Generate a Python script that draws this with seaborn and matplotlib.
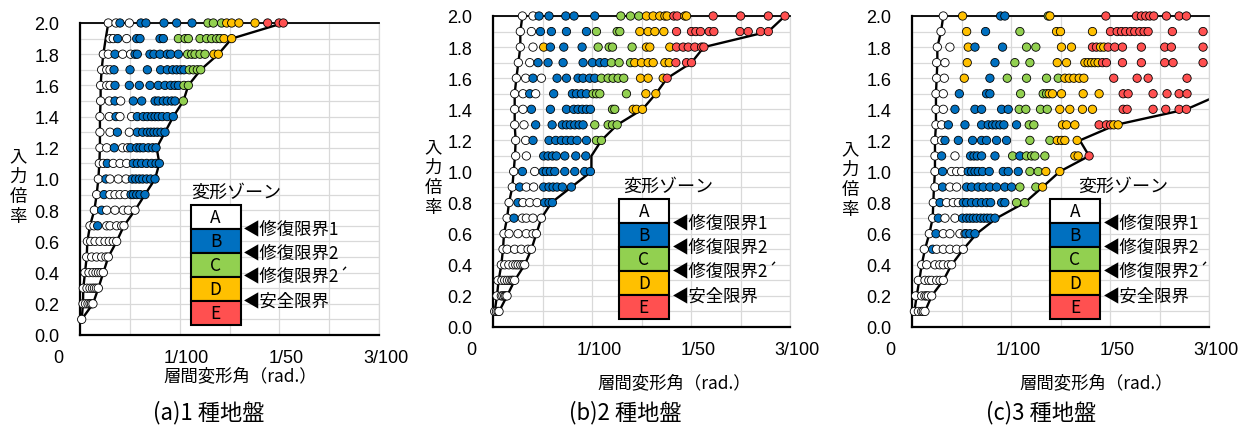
import numpy as np
import pandas as pd
import matplotlib
matplotlib.use("Agg")
import matplotlib.pyplot as plt
import seaborn as sns
from matplotlib.patches import Rectangle
from matplotlib.transforms import ScaledTranslation

# ---------------- data (drift angle in 1/1000 rad, input ratio) ----------------
levels = [0.1, 0.2, 0.3, 0.4, 0.5, 0.6, 0.7, 0.8, 0.9, 1.0,
          1.1, 1.2, 1.3, 1.4, 1.5, 1.6, 1.7, 1.8, 1.9, 2.0]

# (a) ground type 1
a_A = {2.0: [2.84, 3.61, 4.95], 1.9: [3.01, 3.34, 4.68], 1.8: [2.34, 2.84, 4.28, 5.08],
       1.7: [2.17, 2.68, 3.01], 1.6: [2.07, 2.68, 3.01], 1.5: [2.07, 2.94, 4.08],
       1.4: [2.0, 2.94, 4.01, 5.18], 1.3: [2.0, 3.01, 4.95], 1.2: [2.0, 2.68, 4.28, 4.78],
       1.1: [1.94, 2.34, 3.34, 4.01, 4.68], 1.0: [1.84, 3.01, 3.85, 4.62],
       0.9: [1.67, 3.01, 3.51, 4.01, 4.52], 0.8: [1.44, 2.68, 3.51, 4.35, 4.85, 5.52],
       0.7: [1.0, 1.40, 2.68, 3.01, 3.68, 4.18, 4.41],
       0.6: [0.74, 1.07, 1.51, 2.01, 2.51, 2.94, 3.34, 3.68],
       0.5: [0.67, 1.17, 1.67, 2.17, 2.6, 2.84],
       0.4: [0.5, 0.9, 1.3, 1.6, 1.85, 2.1, 2.34],
       0.3: [0.33, 0.7, 1.0, 1.25, 1.45, 1.65, 1.84],
       0.2: [0.3, 0.55, 0.8, 1.0, 1.15, 1.3], 0.1: [0.17]}
a_B = {2.0: [4.01, 6.12, 6.62, 8.43, 9.70, 11.24], 1.9: [3.78, 5.69, 6.02, 8.03, 8.36],
       1.8: [3.51, 5.52, 5.75, 7.02, 7.42, 8.03, 8.76, 9.10, 9.87],
       1.7: [3.41, 5.02, 6.76, 8.09, 8.76, 9.30, 9.70, 10.10, 10.43],
       1.6: [3.51, 4.95, 5.95, 7.02, 7.86, 8.53, 9.10, 9.53, 9.87],
       1.5: [3.51, 5.35, 6.19, 7.53, 7.86, 8.36, 8.76, 9.20, 9.53],
       1.4: [3.61, 5.75, 6.35, 6.76, 7.19, 7.53, 7.86, 8.26, 8.76, 9.36],
       1.3: [3.75, 5.75, 6.29, 6.76, 7.09, 7.42, 7.76, 8.13, 8.53],
       1.2: [3.44, 5.08, 5.69, 6.02, 6.35, 6.86, 7.29, 7.63],
       1.1: [2.74, 5.35, 5.75, 6.19, 6.69, 7.19, 7.63, 7.96],
       1.0: [2.61, 5.25, 5.59, 5.95, 6.29, 6.69, 7.09, 7.53],
       0.9: [2.41, 5.12, 5.35, 5.69, 6.02, 6.52], 0.8: [2.17], 0.7: [1.77]}
a_C = {2.0: [12.84, 13.38, 14.2], 1.9: [9.87, 10.54, 10.87, 12.04, 12.71, 13.21, 13.71, 14.05],
       1.8: [10.80, 11.20, 11.54, 12.04, 12.54], 1.7: [10.97, 11.37, 11.77, 12.11],
       1.6: [10.43, 10.87], 1.5: [10.37]}
a_D = {2.0: [14.72, 15.22, 15.95, 17.56], 1.9: [14.45, 15.22], 1.8: [13.44, 13.88]}
a_E = {2.0: [18.83, 19.97, 20.4]}
a_left = [0.17, 0.3, 0.33, 0.5, 0.67, 0.74, 1.0, 1.44, 1.67, 1.84,
          1.94, 2.0, 2.0, 2.0, 2.07, 2.07, 2.17, 2.34, 2.58, 2.84]
a_right = [0.17, 1.3, 1.84, 2.34, 2.84, 3.68, 4.41, 5.52, 6.52, 7.53,
           7.96, 7.69, 8.53, 9.36, 10.37, 10.87, 12.11, 13.88, 15.22, 20.4]

# (b) ground type 2
b_A = {2.0: [2.97, 4.04], 1.9: [2.76, 3.88], 1.8: [2.76, 4.04], 1.7: [2.56, 3.71],
       1.6: [2.36, 3.30, 4.89], 1.5: [2.19, 3.03, 4.31], 1.4: [2.19, 3.03], 1.3: [2.19, 3.13],
       1.2: [2.29, 3.30], 1.1: [2.29, 3.37], 1.0: [2.09, 4.21], 0.9: [1.95, 3.37, 4.11],
       0.8: [1.62, 3.03, 3.71, 4.45], 0.7: [1.42, 2.97, 3.37, 4.04, 4.89],
       0.6: [1.11, 1.62, 2.53, 3.37, 4.04, 4.38], 0.5: [1.01, 1.42, 2.19, 2.86, 3.54, 3.88],
       0.4: [0.84, 1.18, 1.6, 2.02, 2.3, 2.53, 2.8, 3.03, 3.20],
       0.3: [0.51, 0.9, 1.18, 1.45, 1.69, 1.9, 2.02, 2.19],
       0.2: [0.40, 0.84, 1.0, 1.18, 1.3, 1.42], 0.1: [0.17, 0.35, 0.51, 0.61]}
b_B = {2.0: [4.65, 5.66, 7.35, 8.19, 10.28], 1.9: [4.79, 5.90, 7.42, 9.44],
       1.8: [5.80, 7.15, 9.00], 1.7: [4.55, 5.56, 7.08, 9.10, 10.04, 10.79, 11.29],
       1.6: [4.04, 6.47, 7.42, 8.59, 9.10, 9.77, 10.28],
       1.5: [3.71, 6.13, 8.02, 8.43, 8.93, 9.44],
       1.4: [3.88, 5.80, 7.42, 8.16, 8.59, 9.03, 9.44, 9.84],
       1.3: [4.31, 5.97, 7.01, 7.42, 7.82, 8.26, 8.70, 9.10],
       1.2: [4.04, 5.66, 6.34, 6.91, 7.42, 7.92, 8.49, 9.44],
       1.1: [5.12, 5.56, 6.00, 6.40, 7.25, 8.36, 9.37],
       1.0: [2.97, 5.06, 5.39, 5.80, 6.24, 7.25, 8.26, 9.27, 9.84],
       0.9: [2.70, 5.12, 5.66, 6.07, 6.47, 7.01, 7.92], 0.8: [2.53, 5.22, 5.66, 6.00],
       0.7: [2.12]}
b_C = {2.0: [12.91, 13.89, 14.73], 1.9: [10.45, 12.54, 12.81], 1.8: [10.62, 11.73, 12.07, 14.05],
       1.7: [11.96, 12.74, 13.89], 1.6: [10.95, 11.63, 12.13, 12.64, 13.21],
       1.5: [10.11, 10.45, 10.79, 13.48], 1.4: [12.07, 12.3],
       1.3: [10.28, 11.63, 12.07, 12.54], 1.2: [10.45, 10.95]}
b_D = {2.0: [15.50, 16.18, 16.85, 17.36, 17.59, 19.38, 19.55], 1.9: [14.83, 15.67, 16.35, 17.26],
       1.8: [5.12, 15.50, 15.84, 17.86], 1.7: [14.32, 15.00, 15.67, 16.18, 17.36, 17.80],
       1.6: [14.90, 15.67, 17.19], 1.5: [15.44, 16.45], 1.4: [14.16, 14.49, 15.10]}
b_E = {2.0: [18.27, 18.6, 22.24, 25.01, 27.81, 29.49],
       1.9: [18.54, 20.05, 20.49, 20.96, 21.84, 22.31, 24.94, 25.78, 27.03, 27.81],
       1.8: [18.54, 19.21, 19.72, 20.39, 21.07, 21.30], 1.7: [18.47, 19.55, 20.05],
       1.6: [17.59]}
b_left = [0.17, 0.40, 0.57, 0.84, 1.01, 1.11, 1.42, 1.62, 1.95, 2.09,
          2.22, 2.29, 2.19, 2.19, 2.19, 2.36, 2.56, 2.76, 2.76, 2.97]
b_right = [0.61, 1.42, 2.19, 3.20, 3.88, 4.38, 4.89, 5.9, 7.92, 9.94,
           9.94, 10.95, 12.54, 15.10, 16.45, 17.59, 20.05, 21.30, 27.81, 29.49]

# (c) ground type 3
c_A = {2.0: [3.16], 1.9: [2.93], 1.8: [2.56, 3.83], 1.7: [2.49, 3.33], 1.6: [2.49, 3.26],
       1.5: [2.42, 3.16], 1.4: [2.42, 3.16], 1.3: [2.42, 2.99], 1.2: [2.32, 2.99],
       1.1: [2.32, 4.34], 1.0: [2.32, 4.00, 4.51, 5.01], 0.9: [2.32, 3.83, 4.51],
       0.8: [2.15, 3.50, 4.17, 4.68], 0.7: [2.09, 3.33, 4.34],
       0.6: [1.75, 3.16, 3.83, 4.84, 5.35], 0.5: [1.24, 2.49, 3.16, 3.83, 4.51, 5.18],
       0.4: [0.98, 1.48, 2.32, 2.8, 3.16, 3.67, 4.00],
       0.3: [0.64, 1.31, 1.7, 1.98, 2.49, 2.83, 3.16],
       0.2: [0.37, 0.98, 1.3, 1.48, 1.65, 1.99], 0.1: [0.24, 0.64, 0.98, 1.14, 1.31]}
c_B = {2.0: [8.95, 9.38], 1.9: [7.43], 1.8: [6.36, 9.15], 1.7: [8.38], 1.6: [7.87],
       1.5: [4.78, 7.53, 7.87], 1.4: [4.34, 6.36, 7.03, 9.05, 9.72],
       1.3: [3.67, 5.35, 7.03, 7.70, 8.14, 8.48, 8.88, 9.28, 10.56],
       1.2: [3.33, 4.68, 6.12, 7.03, 7.53, 8.54, 9.55],
       1.1: [2.99, 5.92, 6.26, 6.59, 7.03, 8.38, 10.9],
       1.0: [3.09, 5.68, 6.02, 6.36, 6.69, 7.13, 7.80, 9.22, 9.72, 10.73],
       0.9: [3.09, 5.52, 6.02, 6.69, 7.20, 7.87, 8.54, 9.38, 10.06],
       0.8: [2.83, 5.18, 5.52, 6.02, 6.53, 7.03, 7.53, 7.94, 9.05, 9.38],
       0.7: [2.66, 5.11, 5.52, 5.85, 6.19, 6.53, 6.93, 7.27, 7.60, 7.94, 8.38],
       0.6: [2.42, 5.45, 5.85, 6.36], 0.5: [2.09]}
c_C = {2.0: [13.76], 1.9: [10.90], 1.8: [11.57, 12.51], 1.7: [10.39, 11.91],
       1.6: [9.62, 11.57, 13.59, 14.77], 1.5: [10.97, 13.25, 13.59],
       1.4: [10.83, 11.50, 12.98, 13.66], 1.3: [11.84, 12.31], 1.2: [11.91, 13.93],
       1.1: [10.16, 11.57, 12.08, 12.41, 13.42], 1.0: [11.91, 12.75], 0.9: [10.90, 12.51],
       0.8: [10.56, 11.40]}
c_D = {2.0: [5.11, 13.93], 1.9: [5.52, 14.60, 15.00, 18.23],
       1.8: [5.68, 15.10, 16.11, 19.04, 19.37],
       1.7: [5.58, 14.67, 15.61, 17.46, 17.79, 18.13, 18.47, 18.80],
       1.6: [5.28, 15.44, 15.88, 16.35, 16.89, 17.36], 1.5: [13.86, 14.19, 15.10, 17.29, 18.90],
       1.4: [14.93, 15.94, 17.22, 18.23], 1.3: [15.20, 15.61, 16.45, 20.38, 20.82],
       1.2: [14.67, 15.10, 15.44, 16.68], 1.1: [16.45, 16.78], 1.0: [13.52, 14.93],
       0.9: [13.19]}
c_E = {2.0: [19.58, 22.67, 23.17, 23.61, 24.02, 24.42, 25.70, 26.98, 27.72],
       1.9: [20.05, 20.72, 21.16, 21.59, 22.07, 22.50, 23.01, 23.44, 23.85, 26.30, 29.40],
       1.8: [18.23, 18.63, 19.81, 20.48, 21.26, 23.17, 25.53, 26.20, 29.40],
       1.7: [19.24, 19.64, 21.26, 23.17, 25.53, 26.37, 29.40],
       1.6: [20.38, 22.74, 23.85, 27.78], 1.5: [21.33, 21.83, 24.35, 25.76, 26.98, 27.78],
       1.4: [21.33, 21.73, 24.35, 25.63, 26.98, 27.72], 1.3: [18.90, 19.64, 20.05],
       1.1: [17.89]}
c_left = [0.24, 0.47, 0.74, 0.98, 1.31, 1.75, 2.09, 2.15, 2.22, 2.32,
          2.32, 2.32, 2.42, 2.42, 2.42, 2.49, 2.56, 2.56, 2.93, 3.16]
c_right = [1.31, 1.99, 3.16, 4.0, 5.18, 6.53, 8.54, 11.40, 13.19, 14.93,
           17.89, 16.95, 20.6, 27.72, 31.3]

zones = ["A", "B", "C", "D", "E"]
zone_colors = ["#FFFFFF", "#0070C0", "#92D050", "#FFC000", "#FF5050"]
limit_labels = ["◀修復限界1", "◀修復限界2", "◀修復限界2´", "◀安全限界"]
captions = ["(a)1 種地盤", "(b)2 種地盤", "(c)3 種地盤"]
xtick_vals = [0.0, 0.01, 0.02, 0.03]
xtick_labels = ["0", "1/100", "1/50", "3/100"]
ytick_vals = [0.0, 0.2, 0.4, 0.6, 0.8, 1.0, 1.2, 1.4, 1.6, 1.8, 2.0]

# ---------------- build tables ----------------
panels = {
    "a": ([a_A, a_B, a_C, a_D, a_E], a_left, a_right),
    "b": ([b_A, b_B, b_C, b_D, b_E], b_left, b_right),
    "c": ([c_A, c_B, c_C, c_D, c_E], c_left, c_right),
}
rows = []
for p, (zd, _, _) in panels.items():
    for z, d in zip(zones, zd):
        for lvl, xs in d.items():
            for x in xs:
                rows.append((p, z, lvl, x / 1000.0))
df = pd.DataFrame(rows, columns=["panel", "zone", "level", "drift"])
palette = dict(zip(zones, zone_colors))

# ---------------- style ----------------
sns.set_theme(style="white")
plt.rcParams["font.family"] = ["Liberation Sans", "Noto Sans CJK JP", "DejaVu Sans"]
CJK = ["Noto Sans CJK JP", "DejaVu Sans"]

W, H = 1249, 427
fig = plt.figure(figsize=(W / 100, H / 100), dpi=100)

def px_axes(l, t, r, b):
    return [l / W, 1 - b / H, (r - l) / W, (b - t) / H]

layout = {
    "a": dict(box=px_axes(80, 24, 379, 336), leg_left=0.370, leg_bottom=0.033, cell=0.0769,
              title=(0.372, 0.458), lab_x=0.546, ylab=(18, 187), xlab=(240, 376), cap=(209, 413)),
    "b": dict(box=px_axes(493, 17, 790, 328), leg_left=0.424, leg_bottom=0.026, cell=0.0772,
              title=(0.438, 0.453), lab_x=0.602, ylab=(433, 178), xlab=(674, 383), cap=(625, 413)),
    "c": dict(box=px_axes(912, 17, 1209, 328), leg_left=0.465, leg_bottom=0.026, cell=0.0772,
              title=(0.559, 0.453), lab_x=0.642, ylab=(850, 180), xlab=(1096, 383), cap=(1041, 413)),
}

for i, (p, (zd, left, right)) in enumerate(panels.items()):
    L = layout[p]
    ax = fig.add_axes(L["box"])
    ax.set_xlim(0, 0.03)
    ax.set_ylim(0, 2.0)

    # boundary lines
    sns.lineplot(x=np.array(left) / 1000.0, y=levels[:len(left)], sort=False, estimator=None,
                 color="black", lw=1.7, ax=ax, zorder=2)
    sns.lineplot(x=np.array(right) / 1000.0, y=levels[:len(right)], sort=False, estimator=None,
                 color="black", lw=1.7, ax=ax, zorder=2)

    sub = df[df["panel"] == p].sort_values(["level", "drift"])
    sns.scatterplot(data=sub, x="drift", y="level", hue="zone", hue_order=zones,
                    palette=palette, s=36, edgecolor="black", linewidth=0.6,
                    legend=False, ax=ax, zorder=3)
    ax.collections[-1].set_clip_on(False)

    # grid / ticks
    ax.set_xticks(xtick_vals)
    ax.set_xticks([0.005, 0.015, 0.025], minor=True)
    ax.set_yticks(ytick_vals)
    ax.set_yticks([0.1, 0.3, 0.5, 0.7, 0.9, 1.1, 1.3, 1.5, 1.7, 1.9], minor=True)
    ax.grid(True, which="both", color="#d9d9d9", lw=0.9)
    ax.set_axisbelow(True)
    ax.set_yticklabels([f"{v:.1f}" for v in ytick_vals])
    ax.set_xticklabels(xtick_labels)
    ax.tick_params(which="major", direction="out", length=5, width=1.3, color="black",
                   labelsize=13, labelcolor="black")
    ax.tick_params(axis="y", which="major", pad=10)
    ax.tick_params(axis="x", which="major", pad=5)
    ax.tick_params(which="minor", length=0)
    for lab, dx in zip(ax.get_xticklabels(), [-22, 7, 7, 7]):
        lab.set_transform(lab.get_transform() + ScaledTranslation(dx / 100, 0, fig.dpi_scale_trans))
    ax.set_xlabel("")
    ax.set_ylabel("")
    for s in ["left", "bottom"]:
        ax.spines[s].set_color("black")
        ax.spines[s].set_linewidth(1.6)
    ax.spines["top"].set_color("black")
    ax.spines["top"].set_linewidth(1.3)
    ax.spines["right"].set_color("#d9d9d9")
    ax.spines["right"].set_linewidth(0.9)

    # zone legend
    x0, y0, h = L["leg_left"], L["leg_bottom"], L["cell"]
    w = 0.167
    for k, (z, col) in enumerate(zip(zones, zone_colors)):
        yb = y0 + (4 - k) * h
        ax.add_patch(Rectangle((x0, yb), w, h, transform=ax.transAxes, facecolor=col,
                               edgecolor="black", lw=1.5, zorder=5, clip_on=False))
        ax.text(x0 + w / 2, yb + h / 2, z, transform=ax.transAxes, ha="center", va="center",
                fontsize=12.5, family=CJK, zorder=6, color="black")
    for k, t in enumerate(limit_labels):
        ax.text(L["lab_x"], y0 + (4 - k) * h, t, transform=ax.transAxes, ha="left",
                va="center", fontsize=12.5, family=CJK, zorder=6, color="black")
    ax.text(L["title"][0], L["title"][1], "変形ゾーン", transform=ax.transAxes, ha="left",
            va="center", fontsize=13, family=CJK, color="black")

    fig.text(L["ylab"][0] / W, 1 - L["ylab"][1] / H, "入\n力\n倍\n率", ha="center", va="center",
             fontsize=12.5, family=CJK, linespacing=1.15, color="black")
    fig.text(L["xlab"][0] / W, 1 - L["xlab"][1] / H, "層間変形角（rad.）", ha="center",
             va="center", fontsize=12.5, family=CJK, color="black")
    fig.text(L["cap"][0] / W, 1 - L["cap"][1] / H, captions[i], ha="center", va="center",
             fontsize=16, family=CJK, color="black")

fig.savefig("out.png", dpi=100)
